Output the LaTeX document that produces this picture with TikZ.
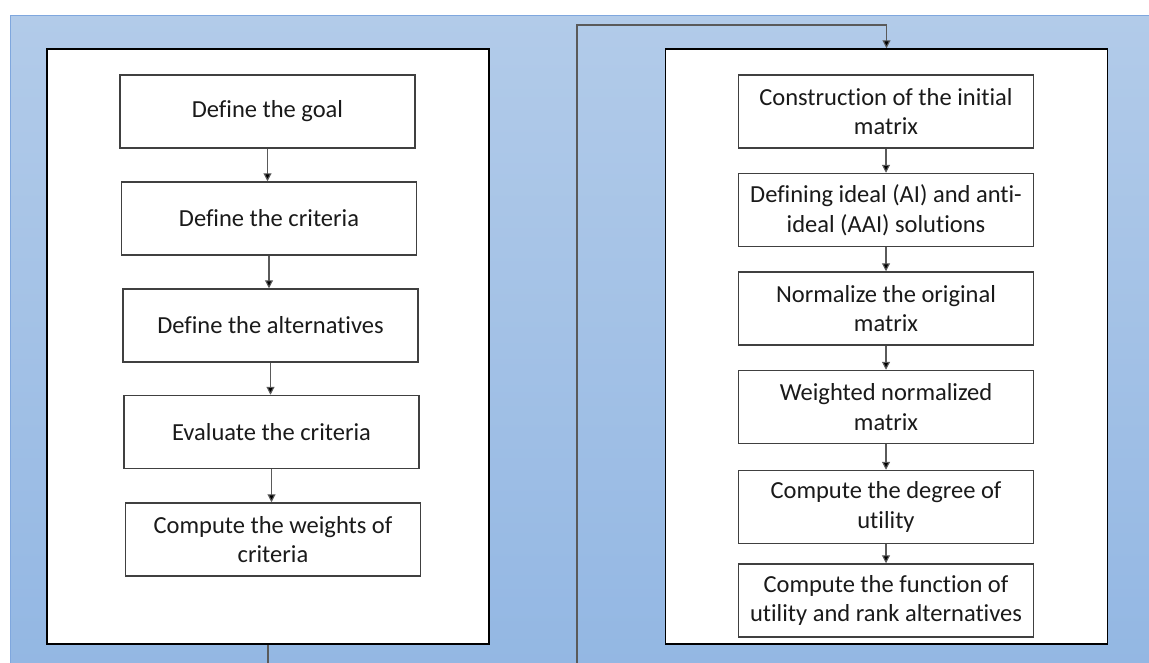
\documentclass[tikz,border=0pt]{standalone}
\usepackage{fontspec}
\setmainfont{Carlito}[Ligatures={NoCommon}]
\usetikzlibrary{arrows.meta}
\definecolor{bgtop}{HTML}{B2CBE9}
\definecolor{bgbot}{HTML}{93B7E3}
\definecolor{bgedge}{HTML}{7FA7DE}
\definecolor{boxline}{HTML}{404040}
\definecolor{conn}{HTML}{5A5A5A}
\definecolor{txt}{HTML}{1A1A1A}
\tikzset{
  panel/.style={draw=black, line width=1.5pt, fill=white, minimum width=442pt, minimum height=595pt, inner sep=0pt},
  stepbox/.style={draw=boxline, line width=1.5pt, fill=white, minimum width=295pt, minimum height=73pt, inner sep=0pt, align=center, text=txt, font=\fontsize{24.5pt}{29.5pt}\selectfont},
  flow/.style={draw=conn, line width=1.1pt, -{Triangle[width=8pt,length=8pt,fill=black]}},
}
\begin{document}
\begin{tikzpicture}[x=1pt,y=-1pt]
\useasboundingbox (0,0) rectangle (1149,662);
\clip (0,0) rectangle (1149,662);
\fill[white] (0,0) rectangle (1149,662);
\shade[top color=bgtop, bottom color=bgbot] (10,15) rectangle (1160,670);
\draw[bgedge, line width=1pt] (10,670) -- (10,15) -- (1160,15);
% panels (named), connector between them, then panels again on top
\node[panel] (LP) at (268,346.5) {};
\node[panel] (RP) at (886.5,346.5) {};
\draw[flow] (LP.south) -- (268,690) -- (577,690) -- (577,25) -- (886.5,25) -- (RP.north);
\node[panel] at (268,346.5) {};
\node[panel] at (886.5,346.5) {};
% left boxes
\node[stepbox] (L1) at (267.5,111.5) {Define the goal};
\node[stepbox] (L2) at (269,218.5) {Define the criteria};
\node[stepbox] (L3) at (270.5,325.5) {Define the alternatives};
\node[stepbox] (L4) at (271.5,432) {Evaluate the criteria};
\node[stepbox] (L5) at (273,539.5) {Compute the weights of\\criteria};
% right boxes
\node[stepbox] (R1) at (886,111.5) {Construction of the initial\\matrix};
\node[stepbox] (R2) at (886,210) {Defining ideal (AI) and anti-\\ideal (AAI) solutions};
\node[stepbox] (R3) at (886,308.5) {Normalize the original\\matrix};
\node[stepbox] (R4) at (886,407) {Weighted normalized\\matrix};
\node[stepbox] (R5) at (886,507) {Compute the degree of\\utility};
\node[stepbox] (R6) at (886,600.5) {Compute the function of\\utility and rank alternatives};
% arrows
\foreach \a/\b in {L1/L2,L2/L3,L3/L4,L4/L5,R1/R2,R2/R3,R3/R4,R4/R5,R5/R6}
  \draw[flow] (\a.south) -- (\a.south |- \b.north);
\end{tikzpicture}
\end{document}
